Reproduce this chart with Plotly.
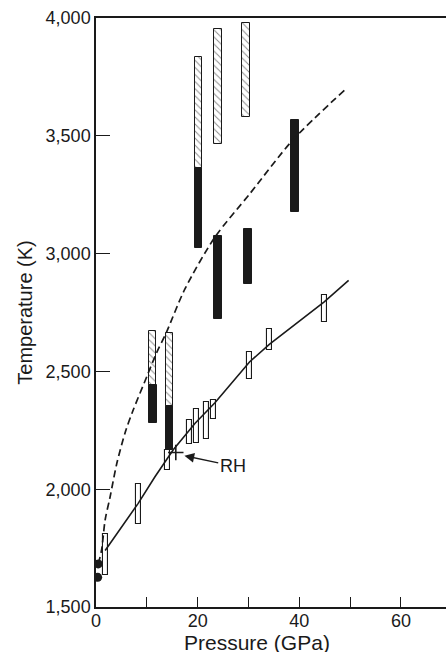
import plotly.graph_objects as go

# ---- data ----
solid_p = [1.8, 8.3, 11.6, 15.2, 19.5, 23.4, 30.2, 34.1, 44.9, 49.7]
solid_t = [1740, 1940, 2053, 2167, 2280, 2367, 2540, 2615, 2795, 2886]

dashed_p = [0.45, 1.1, 1.8, 2.75, 4.1, 5.8, 7.3, 10.0, 11.9, 13.8, 17.5, 23.4, 30.3, 38.8, 49.0]
dashed_t = [1683, 1742, 1870, 1965, 2110, 2245, 2335, 2478, 2578, 2663, 2850, 3070, 3255, 3484, 3696]

open_p = [1.8, 8.3, 14.05, 18.4, 19.8, 21.8, 23.1, 30.2, 34.1, 45.0]
open_lo = [1636, 1852, 2082, 2192, 2197, 2215, 2297, 2469, 2589, 2709]
open_hi = [1810, 2021, 2165, 2294, 2340, 2372, 2379, 2582, 2681, 2823]

black_p = [11.2, 14.45, 20.2, 24.0, 29.9, 39.1]
black_lo = [2283, 2165, 3024, 2723, 2870, 3177]
black_hi = [2443, 2354, 3364, 3073, 3105, 3566]

hatch_p = [11.2, 14.45, 20.2, 24.0, 29.5]
hatch_lo = [2443, 2354, 3364, 3467, 3579]
hatch_hi = [2670, 2664, 3836, 3954, 3977]

dot_p = [0.33, 0.45]
dot_t = [1626, 1683]

rh_p, rh_t = 15.7, 2156

x_ticks = [0, 10, 20, 30, 40, 50, 60, 70]
x_ticktext = ["0", "", "20", "", "40", "", "60", ""]
y_ticks = [1500, 2000, 2500, 3000, 3500, 4000]

x_title = "Pressure (GPa)"
y_title = "Temperature (K)"

INK = "#1a1a1a"
FONT = "Liberation Sans, Arial, Helvetica, sans-serif"

fig = go.Figure()

fig.add_trace(go.Scatter(x=solid_p, y=solid_t, mode="lines",
                         line=dict(color=INK, width=1.6),
                         showlegend=False, hoverinfo="skip"))
fig.add_trace(go.Scatter(x=dashed_p, y=dashed_t, mode="lines",
                         line=dict(color=INK, width=1.7, dash="7px,4px", shape="spline", smoothing=0.8),
                         showlegend=False, hoverinfo="skip"))

fig.add_trace(go.Bar(x=hatch_p, base=hatch_lo,
                     y=[h - l for h, l in zip(hatch_hi, hatch_lo)],
                     width=1.4,
                     marker=dict(color="white", line=dict(color=INK, width=1),
                                 pattern=dict(shape="\\", fgcolor=INK, bgcolor="white",
                                              size=5, solidity=0.2)),
                     showlegend=False, hoverinfo="skip"))
fig.add_trace(go.Bar(x=black_p, base=black_lo,
                     y=[h - l for h, l in zip(black_hi, black_lo)],
                     width=1.5,
                     marker=dict(color=INK, line=dict(color=INK, width=1)),
                     showlegend=False, hoverinfo="skip"))
fig.add_trace(go.Bar(x=open_p, base=open_lo,
                     y=[h - l for h, l in zip(open_hi, open_lo)],
                     width=0.95,
                     marker=dict(color="white", line=dict(color=INK, width=1.1)),
                     showlegend=False, hoverinfo="skip"))

fig.add_trace(go.Scatter(x=dot_p, y=dot_t, mode="markers",
                         marker=dict(color=INK, size=9),
                         showlegend=False, hoverinfo="skip"))
fig.add_trace(go.Scatter(x=[rh_p], y=[rh_t], mode="markers",
                         marker=dict(symbol="cross-thin", size=11, line=dict(color=INK, width=1.6)),
                         showlegend=False, hoverinfo="skip"))

fig.add_annotation(x=17.4, y=2142, ax=26.9, ay=2099, axref="x", ayref="y",
                   text="RH", showarrow=True, arrowhead=2, arrowsize=1.5,
                   arrowwidth=1.3, arrowcolor=INK,
                   font=dict(family=FONT, size=18, color=INK))

# x-axis title (sits partly below the page edge, as in the reference)
fig.add_annotation(x=0.461, y=-0.0611, xref="paper", yref="paper",
                   xanchor="center", yanchor="middle", showarrow=False,
                   text=x_title, font=dict(family=FONT, size=21, color=INK))

fig.update_layout(
    width=446, height=652,
    margin=dict(l=96, r=0, t=18, b=45),
    paper_bgcolor="white", plot_bgcolor="white",
    barmode="overlay", bargap=0,
    font=dict(family=FONT, size=18, color=INK),
)
fig.update_xaxes(range=[0, 68.86], tickvals=x_ticks, ticktext=x_ticktext,
                 ticks="inside", ticklen=10, tickwidth=1.3, tickcolor=INK,
                 showline=True, linecolor=INK, linewidth=1.5, mirror=True,
                 showgrid=False, zeroline=False, automargin=False,
                 ticklabelstandoff=-3,
                 tickfont=dict(size=18))
fig.update_yaxes(range=[1500, 4000], tickvals=y_ticks, tickformat=",",
                 ticks="inside", ticklen=14, tickwidth=1.3, tickcolor=INK,
                 showline=True, linecolor=INK, linewidth=1.5,
                 showgrid=False, zeroline=False, automargin=False,
                 title=dict(text=y_title, font=dict(size=20), standoff=8),
                 tickfont=dict(size=18))

fig.write_html("out.html", config={"displayModeBar": False},
               post_script="document.body.style.margin='0px';document.body.style.padding='0px';")
